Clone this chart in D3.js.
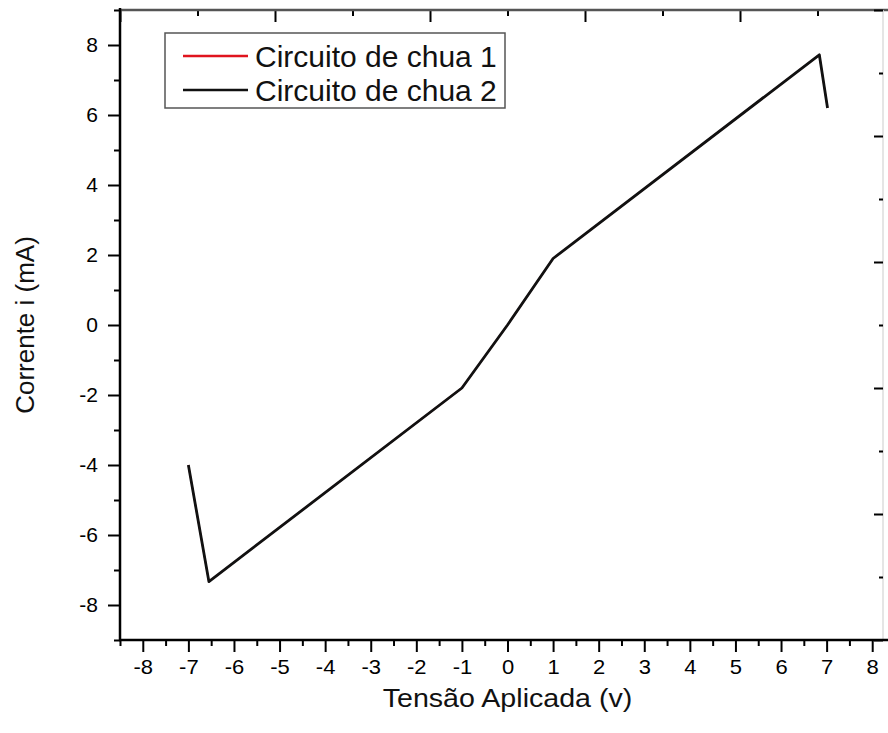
<!DOCTYPE html>
<html>
<head>
<meta charset="utf-8">
<script src="https://cdn.jsdelivr.net/npm/d3@7"></script>
<style>
  body { margin: 0; background: #fff; }
  svg { display: block; font-family: "Liberation Sans", Arial, sans-serif; }
  .axis path, .axis line { stroke: #000; }
  .axis text { fill: #000; }
</style>
</head>
<body>
<div id="chart"></div>
<script>
// data
var voltage  = [-7.0, -6.55, -1.0, 0.0, 1.0, 6.84, 7.02];
var current1 = [-4.0, -7.33, -1.8, 0.0, 1.9, 7.72, 6.2];
var current2 = [-4.0, -7.33, -1.8, 0.0, 1.9, 7.72, 6.2];
var seriesNames = ["Circuito de chua 1", "Circuito de chua 2"];
var seriesColors = ["#e0141e", "#111111"];

var xTicks = [-8, -7, -6, -5, -4, -3, -2, -1, 0, 1, 2, 3, 4, 5, 6, 7, 8];
var xMinor = [-8.5, -7.5, -6.5, -5.5, -4.5, -3.5, -2.5, -1.5, -0.5, 0.5, 1.5, 2.5, 3.5, 4.5, 5.5, 6.5, 7.5, 8.5];
var yTicks = [-8, -6, -4, -2, 0, 2, 4, 6, 8];
var yMinor = [-9, -7, -5, -3, -1, 1, 3, 5, 7, 9];
// second layer axes (top / right), labels cut off in the reference
var l2Major = [0, 2, 4, 6, 8, 10];
var l2Minor = [1, 3, 5, 7, 9];

var xLabel = "Tensão Aplicada (v)";
var yLabel = "Corrente i (mA)";

var W = 888, H = 733;
var dims = { left: 120, right: 895, top: 10, bottom: 640, rightAxis: 883 };

var svg = d3.select("#chart").append("svg")
            .attr("width", W)
            .attr("height", H);

var x = d3.scaleLinear().domain([-8.5, 8.5]).range([dims.left, dims.right]);
var y = d3.scaleLinear().domain([-9, 9]).range([dims.bottom, dims.top]);
var xTop = d3.scaleLinear().domain([0, 10]).range([dims.left, dims.right]);
var yRight = d3.scaleLinear().domain([0, 10]).range([dims.bottom, dims.top]);

var plain = function(d){ return String(d); };

// top axis (layer 2), ticks inward
svg.append("g").attr("class", "axis")
   .attr("transform", "translate(0," + dims.top + ")")
   .call(d3.axisBottom(xTop).tickValues(l2Major).tickSize(12).tickFormat(""))
   .call(function(g){ g.select(".domain").remove(); g.selectAll("line").attr("stroke", "#333").attr("stroke-width", 2); });
svg.append("g").attr("class", "axis")
   .attr("transform", "translate(0," + dims.top + ")")
   .call(d3.axisBottom(xTop).tickValues(l2Minor).tickSize(6).tickFormat(""))
   .call(function(g){ g.select(".domain").remove(); g.selectAll("line").attr("stroke", "#333").attr("stroke-width", 2); });
svg.append("line")
   .attr("x1", dims.left).attr("x2", W)
   .attr("y1", dims.top).attr("y2", dims.top)
   .attr("stroke", "#555").attr("stroke-width", 2.5);

// right axis (layer 2), faint
svg.append("line")
   .attr("x1", dims.rightAxis).attr("x2", dims.rightAxis)
   .attr("y1", dims.top).attr("y2", dims.bottom)
   .attr("stroke", "#ddd").attr("stroke-width", 1.5);
svg.append("g").attr("class", "axis")
   .attr("transform", "translate(" + dims.rightAxis + ",0)")
   .call(d3.axisLeft(yRight).tickValues(l2Major).tickSize(9).tickFormat(""))
   .call(function(g){ g.select(".domain").remove(); g.selectAll("line").attr("stroke", "#222").attr("stroke-width", 2); });
svg.append("g").attr("class", "axis")
   .attr("transform", "translate(" + dims.rightAxis + ",0)")
   .call(d3.axisLeft(yRight).tickValues(l2Minor).tickSize(4).tickFormat(""))
   .call(function(g){ g.select(".domain").remove(); g.selectAll("line").attr("stroke", "#999").attr("stroke-width", 2); });

// bottom axis
svg.append("g").attr("class", "axis")
   .attr("transform", "translate(0," + dims.bottom + ")")
   .call(d3.axisBottom(x).tickValues(xMinor).tickSize(6).tickFormat(""))
   .call(function(g){ g.select(".domain").remove(); g.selectAll("line").attr("stroke-width", 2); });
svg.append("g").attr("class", "axis")
   .attr("transform", "translate(0," + dims.bottom + ")")
   .call(d3.axisBottom(x).tickValues(xTicks).tickSize(12).tickPadding(8).tickFormat(plain))
   .call(function(g){
     g.select(".domain").remove();
     g.selectAll("line").attr("stroke-width", 2);
     g.selectAll("text").attr("font-size", 20).attr("font-family", "Liberation Sans, Arial, sans-serif")
      .attr("transform", "scale(1.1,1)");
   });
svg.append("line")
   .attr("x1", dims.left - 1).attr("x2", W)
   .attr("y1", dims.bottom).attr("y2", dims.bottom)
   .attr("stroke", "#000").attr("stroke-width", 2.5);

// left axis
svg.append("g").attr("class", "axis")
   .attr("transform", "translate(" + dims.left + ",0)")
   .call(d3.axisLeft(y).tickValues(yMinor).tickSize(6).tickFormat(""))
   .call(function(g){ g.select(".domain").remove(); g.selectAll("line").attr("stroke-width", 2); });
svg.append("g").attr("class", "axis")
   .attr("transform", "translate(" + dims.left + ",0)")
   .call(d3.axisLeft(y).tickValues(yTicks).tickSize(12).tickPadding(10).tickFormat(plain))
   .call(function(g){
     g.select(".domain").remove();
     g.selectAll("line").attr("stroke-width", 2);
     g.selectAll("text").attr("font-size", 21).attr("font-family", "Liberation Sans, Arial, sans-serif");
   });
svg.append("line")
   .attr("x1", dims.left).attr("x2", dims.left)
   .attr("y1", dims.top - 2).attr("y2", dims.bottom + 1)
   .attr("stroke", "#000").attr("stroke-width", 2.5);

// lines (series 1 sits under series 2)
var line = d3.line()
             .x(function(d, i){ return x(voltage[i]); })
             .y(function(d){ return y(d); });

[current1, current2].forEach(function(series, k){
  svg.append("path")
     .attr("fill", "none")
     .attr("stroke", seriesColors[k])
     .attr("stroke-width", k === 0 ? 1.6 : 2.8)
     .attr("stroke-linejoin", "round")
     .attr("d", line(series));
});

// legend
var legend = svg.append("g").attr("transform", "translate(165,33)");
legend.append("rect")
      .attr("width", 340).attr("height", 75)
      .attr("fill", "#fff")
      .attr("stroke", "#555").attr("stroke-width", 1.5);
seriesNames.forEach(function(name, k){
  var ly = 23 + k * 34;
  legend.append("line")
        .attr("x1", 18).attr("x2", 83)
        .attr("y1", ly).attr("y2", ly)
        .attr("stroke", seriesColors[k]).attr("stroke-width", 2.6);
  legend.append("text")
        .attr("x", 90).attr("y", ly)
        .attr("dy", "0.36em")
        .attr("font-size", 30)
        .attr("fill", "#111")
        .text(name);
});

// axis titles
svg.append("text")
   .attr("transform", "translate(" + x(0) + ",707) scale(1.1,1)")
   .attr("text-anchor", "middle")
   .attr("font-size", 26)
   .attr("fill", "#111")
   .text(xLabel);

svg.append("text")
   .attr("transform", "translate(34," + y(0) + ") rotate(-90)")
   .attr("text-anchor", "middle")
   .attr("font-size", 26)
   .attr("fill", "#111")
   .text(yLabel);
</script>
</body>
</html>
